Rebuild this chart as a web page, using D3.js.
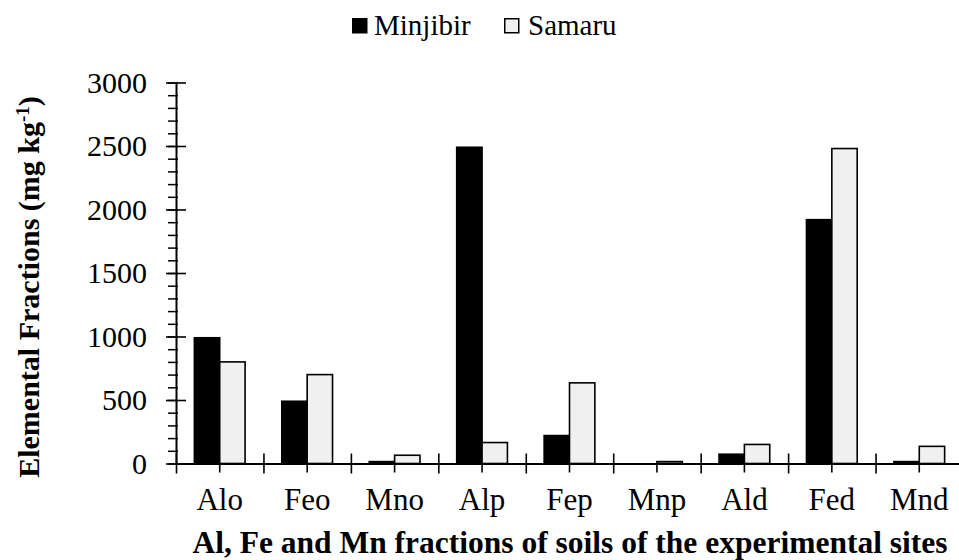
<!DOCTYPE html>
<html>
<head>
<meta charset="utf-8">
<script src="https://cdn.jsdelivr.net/npm/d3@7"></script>
<style>
  html, body { margin: 0; padding: 0; background: #fff; }
  svg { display: block; }
  svg text { font-family: "Liberation Serif", "Times New Roman", serif; fill: #000; }
</style>
</head>
<body>
<svg id="chart" width="959" height="560"></svg>
<script>
// Fraction names along the x axis
const categories = ["Alo", "Feo", "Mno", "Alp", "Fep", "Mnp", "Ald", "Fed", "Mnd"];
// Elemental fractions (mg kg-1) per site
const minjibir = [990, 490, 15, 2490, 220, 0, 73, 1920, 15];
const samaru   = [800, 700, 65, 165, 635, 15, 150, 2480, 135];
const seriesNames = ["Minjibir", "Samaru"];
const seriesFill = ["#000000", "#f0f0f0"];
const yMajorTicks = [0, 500, 1000, 1500, 2000, 2500, 3000];
const yMinorTicks = d3.range(0, 3001, 100);

const FONT = '"Liberation Serif", "Times New Roman", serif';
const svg = d3.select("#chart");

const x0 = 176, x1 = 963, yBottom = 463.5, yTop = 82.5;

const x = d3.scaleBand().domain(categories).range([x0, x1]).paddingInner(0).paddingOuter(0);
const y = d3.scaleLinear().domain([0, 3000]).range([yBottom, yTop]);

const barW = x.bandwidth() * 0.29;

// Bars
const rows = categories.map((c, i) => ({ cat: c, vals: [minjibir[i], samaru[i]] }));
const groups = svg.append("g").selectAll("g").data(rows).join("g");
groups.selectAll("rect")
  .data(d => d.vals.map((v, k) => ({ cat: d.cat, v, k })))
  .join("rect")
  .attr("x", d => x(d.cat) + x.bandwidth() / 2 - barW + d.k * barW)
  .attr("y", d => y(d.v))
  .attr("width", barW)
  .attr("height", d => yBottom - y(d.v))
  .attr("fill", d => seriesFill[d.k])
  .attr("stroke", "#000")
  .attr("stroke-width", 1.6);

// Y axis: minor ticks
const yMinor = svg.append("g").attr("transform", `translate(${x0},0)`)
  .call(d3.axisLeft(y).tickValues(yMinorTicks).tickSize(8).tickFormat(""));
yMinor.select(".domain").remove();
yMinor.selectAll("line").attr("stroke", "#000").attr("stroke-width", 1.5).attr("x2", -8).attr("x1", 2);

// Y axis: major ticks crossing the line, with labels
const yMajor = svg.append("g").attr("transform", `translate(${x0},0)`)
  .call(d3.axisLeft(y).tickValues(yMajorTicks).tickFormat(d3.format("d"))
    .tickSize(10).tickPadding(19).tickSizeOuter(0));
yMajor.style("font-family", FONT);
yMajor.select(".domain").attr("stroke", "#000").attr("stroke-width", 2);
yMajor.selectAll(".tick line").attr("stroke", "#000").attr("stroke-width", 1.6).attr("x1", 10);
yMajor.selectAll("text").attr("font-size", 30).style("font-family", FONT);

// X axis: centre ticks with labels
const xAxis = svg.append("g").attr("transform", `translate(0,${yBottom})`)
  .call(d3.axisBottom(x).tickSize(9).tickPadding(15).tickSizeOuter(0));
xAxis.style("font-family", FONT);
xAxis.select(".domain").attr("stroke", "#000").attr("stroke-width", 2);
xAxis.selectAll(".tick line").attr("stroke", "#000").attr("stroke-width", 1.6);
xAxis.selectAll("text").attr("font-size", 31).style("font-family", FONT);

// X axis: category boundary ticks crossing the line
const bounds = categories.map(c => x(c)).concat([x1]);
const xBound = svg.append("g").attr("transform", `translate(0,${yBottom})`)
  .call(d3.axisBottom(d3.scaleIdentity()).tickValues(bounds).tickSize(10).tickFormat("").tickSizeOuter(0));
xBound.select(".domain").remove();
xBound.selectAll("line").attr("stroke", "#000").attr("stroke-width", 1.6).attr("y1", -10);

// Axis titles
svg.append("text")
  .attr("x", 570)
  .attr("y", 553)
  .attr("text-anchor", "middle")
  .style("font-family", FONT)
  .attr("font-size", 31.5)
  .attr("font-weight", "bold")
  .text("Al, Fe and Mn fractions of soils of the experimental sites");

const yTitle = svg.append("text")
  .attr("transform", "translate(39,287) rotate(-90)")
  .attr("text-anchor", "middle")
  .style("font-family", FONT)
  .attr("font-size", 30)
  .attr("font-weight", "bold");
yTitle.append("tspan").text("Elemental Fractions (mg kg");
yTitle.append("tspan").attr("baseline-shift", "super").attr("font-size", 19).text("-1");
yTitle.append("tspan").text(")");

// Legend
const legendX = [352, 504];
const legend = svg.append("g").selectAll("g").data(seriesNames).join("g")
  .attr("transform", (d, i) => `translate(${legendX[i]},18)`);
legend.append("rect")
  .attr("x", 0.75).attr("y", 0.75)
  .attr("width", 14).attr("height", 14)
  .attr("fill", (d, i) => seriesFill[i])
  .attr("stroke", "#000").attr("stroke-width", 1.5);
legend.append("text")
  .attr("x", (d, i) => i === 0 ? 22 : 24)
  .attr("y", 17)
  .style("font-family", FONT)
  .attr("font-size", 29)
  .text(d => d);
</script>
</body>
</html>
